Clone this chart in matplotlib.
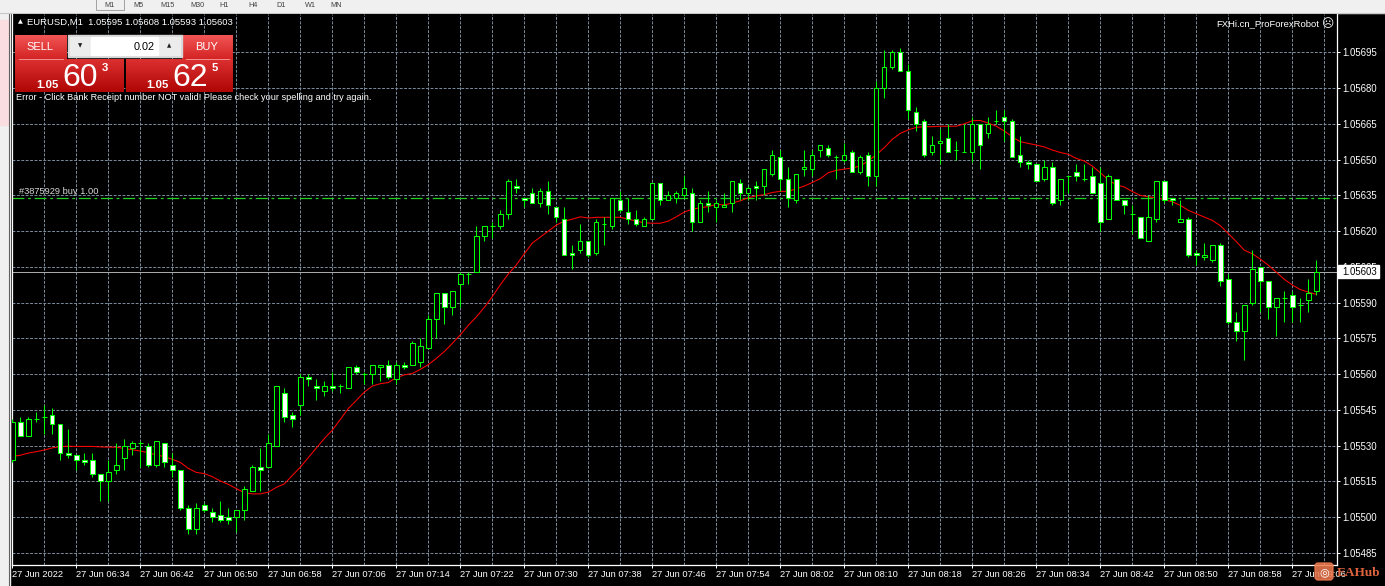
import numpy as np
import matplotlib.pyplot as plt
from matplotlib.patches import Rectangle, FancyBboxPatch
from matplotlib.colors import to_rgb

# ---- data (prices given as points above 1.05000, i.e. 1.05 + pts/1e5) ----
open_pts = [524, 540, 534, 541, 542, 543, 539, 527, 526, 524, 524, 518, 515, 520, 525, 529, 531, 530, 522, 531,
            522, 520, 504, 495, 505, 502, 501, 500, 500, 503, 511, 521, 521, 530, 552, 543, 547, 559, 555, 553,
            555, 555, 554, 563, 560, 560, 563, 564, 558, 564, 564, 565, 571, 583, 594, 588, 598, 602, 603, 618,
            622, 622, 627, 639, 634, 636, 632, 637, 630, 625, 611, 612, 616, 611, 623, 622, 633, 628, 625, 622,
            625, 640, 633, 634, 635, 636, 624, 632, 630, 630, 632, 640, 636, 639, 639, 644, 651, 642, 633, 646,
            646, 654, 655, 651, 650, 653, 645, 652, 643, 680, 689, 695, 687, 670, 666, 653, 657, 659, 654, 653,
            653, 665, 661, 666, 668, 666, 652, 649, 648, 642, 647, 633, 643, 645, 642, 643, 640, 625, 642, 633,
            627, 626, 616, 625, 641, 634, 624, 625, 611, 609, 608, 614, 600, 582, 578, 590, 605, 599, 588, 592,
            593, 589, 591, 595]
high_pts = [541, 542, 542, 544, 547, 546, 539, 537, 526, 527, 527, 518, 524, 531, 533, 532, 532, 531, 532, 531,
            527, 520, 505, 506, 506, 504, 507, 504, 503, 513, 522, 529, 535, 555, 554, 544, 560, 560, 558, 557,
            561, 556, 563, 564, 561, 564, 564, 566, 565, 565, 574, 575, 585, 594, 594, 595, 603, 603, 622, 622,
            624, 629, 642, 642, 634, 638, 638, 641, 630, 630, 614, 623, 616, 625, 626, 634, 637, 634, 629, 626,
            640, 640, 637, 637, 643, 638, 633, 637, 633, 636, 641, 642, 639, 641, 646, 654, 654, 647, 644, 654,
            654, 656, 656, 652, 657, 654, 652, 653, 683, 696, 696, 697, 690, 672, 667, 660, 663, 665, 658, 665,
            668, 665, 668, 671, 671, 667, 660, 650, 648, 650, 649, 642, 643, 648, 648, 647, 647, 644, 642, 633,
            631, 626, 635, 641, 641, 634, 633, 626, 612, 615, 614, 615, 602, 586, 589, 612, 605, 599, 592, 595,
            595, 592, 600, 608]
low_pts = [523, 534, 534, 540, 535, 535, 524, 525, 520, 522, 517, 507, 507, 518, 520, 526, 521, 521, 521, 521,
           517, 503, 493, 493, 502, 498, 498, 497, 494, 499, 511, 511, 521, 530, 540, 538, 543, 555, 549, 551,
           553, 552, 554, 560, 556, 556, 557, 558, 556, 562, 564, 563, 571, 575, 581, 585, 588, 598, 603, 616,
           617, 621, 625, 636, 630, 632, 630, 627, 624, 610, 604, 611, 609, 610, 614, 621, 628, 623, 622, 622,
           625, 631, 633, 632, 634, 620, 624, 628, 624, 630, 628, 633, 633, 633, 635, 643, 637, 630, 632, 643,
           643, 651, 651, 642, 649, 645, 644, 639, 639, 676, 688, 687, 667, 662, 651, 652, 648, 653, 650, 653,
           649, 646, 659, 665, 658, 651, 647, 646, 641, 641, 631, 631, 636, 641, 641, 636, 620, 625, 633, 627,
           619, 617, 616, 624, 632, 631, 624, 609, 606, 608, 607, 597, 581, 574, 566, 589, 586, 583, 576, 582,
           582, 582, 586, 593]
close_pts = [540, 534, 541, 541, 542, 539, 527, 526, 524, 523, 518, 515, 519, 522, 530, 531, 531, 522, 532, 523,
             520, 504, 495, 504, 503, 500, 499, 499, 503, 512, 521, 520, 531, 555, 542, 541, 559, 558, 554, 555,
             554, 555, 563, 561, 560, 564, 564, 559, 564, 563, 573, 572, 583, 594, 588, 595, 602, 602, 618, 622,
             622, 627, 641, 638, 633, 632, 637, 631, 626, 610, 610, 616, 610, 624, 623, 634, 629, 625, 623, 625,
             640, 633, 635, 636, 638, 624, 632, 631, 632, 631, 641, 636, 638, 638, 646, 652, 642, 634, 644, 647,
             652, 656, 652, 651, 652, 645, 651, 643, 680, 689, 695, 687, 671, 665, 652, 656, 658, 653, 654, 653,
             665, 656, 665, 666, 666, 651, 649, 648, 641, 647, 632, 642, 643, 643, 642, 636, 624, 643, 633, 631,
             627, 617, 626, 641, 633, 633, 625, 610, 610, 610, 614, 599, 582, 578, 589, 604, 599, 588, 592, 592,
             588, 589, 594, 603]
ma_pts = [525.5, 526, 526.9, 527.5, 528.2, 529.1, 529.6, 529.8, 529.7, 529.7, 529.7, 529.5, 529.4, 529.4, 528.8,
          528.3, 527.8, 527, 526.2, 525.4, 524.3, 523, 520.5, 518.8, 518.3, 517, 515.2, 513.8, 512, 510.3,
          509.8, 509.8, 510.5, 512.5, 514, 517.5, 521, 525, 529, 533, 536.5, 541, 545.6, 549, 552.5,
          555, 556, 556.5, 558.5, 559.7, 560.3, 562, 564, 566.6, 569.5, 572.9, 576.5, 580.5, 584, 588,
          592.5, 597.5, 602, 605.8, 610.5, 615, 617.5, 620, 622.5, 624.2, 625, 626, 625.5, 625.8, 625.8,
          625.8, 625.8, 625, 624.2, 623.5, 623.3, 623.3, 624.2, 626, 628, 629.2, 629.8, 630.3, 631.2, 631,
          631.8, 632.7, 634, 634.8, 635.3, 636.2, 636.7, 636.7, 637.7, 638.9, 640.4, 642, 644.5, 645.5,
          646, 646.5, 647.3, 649.5, 652, 655, 658.5, 661, 662.5, 663.5, 663.8, 663.8, 664, 664, 664, 665,
          666.3, 666.4, 665.3, 664, 662, 659.5, 657.5, 656.8, 656.1, 655.3, 654, 653, 652.2, 650.5, 649.4,
          647.3, 644.5, 641.5, 639.4, 638.5, 636.6, 635, 634.4, 634, 633.2, 632.3, 630.8, 628.7, 627.3,
          625.9, 624.5, 622.3, 619, 615.6, 612, 610.5, 608.3, 605.7, 602.8, 599.8, 597.4, 595.5, 594.4, 593.5]

time_labels = ["27 Jun 2022", "27 Jun 06:34", "27 Jun 06:42", "27 Jun 06:50", "27 Jun 06:58", "27 Jun 07:06",
               "27 Jun 07:14", "27 Jun 07:22", "27 Jun 07:30", "27 Jun 07:38", "27 Jun 07:46", "27 Jun 07:54",
               "27 Jun 08:02", "27 Jun 08:10", "27 Jun 08:18", "27 Jun 08:26", "27 Jun 08:34", "27 Jun 08:42",
               "27 Jun 08:50", "27 Jun 08:58", "27 Jun 09:06"]
price_ticks = [1.05485, 1.05500, 1.05515, 1.05530, 1.05545, 1.05560, 1.05575, 1.05590, 1.05605,
               1.05620, 1.05635, 1.05650, 1.05665, 1.05680, 1.05695]
periods = ["M1", "M5", "M15", "M30", "H1", "H4", "D1", "W1", "MN"]
bid = 1.05603
order_price = 1.05634
header = "EURUSD,M1  1.05595 1.05608 1.05593 1.05603"

def px(p):
    return 1.05 + np.asarray(p, dtype=float) / 1e5

o, h, l, c = px(open_pts), px(high_pts), px(low_pts), px(close_pts)
ma = px(ma_pts)
k = np.arange(len(o))

W, H = 1385, 586
plt.rcParams['font.family'] = ['Liberation Sans', 'DejaVu Sans']
fig = plt.figure(figsize=(W / 100, H / 100), dpi=100)
fig.patch.set_facecolor('black')

LIME = '#00ff00'
GRID = '#778899'

# window frame (pixel coordinates)
bg = fig.add_axes([0, 0, 1, 1], zorder=0)
bg.set_xlim(0, W)
bg.set_ylim(H, 0)
bg.axis('off')
bg.add_patch(Rectangle((0, 0), W, 13, color='#f0f0f0'))
bg.add_patch(Rectangle((0, 0), 10, H, color='#f0f0f0'))
bg.add_patch(Rectangle((0, 20), 8, 105, color='#f9dde0'))
bg.plot([9, 9], [13, H], color='#606060', lw=0.8)
bg.plot([0, W], [12.5, 12.5], color='#c8c8c8', lw=0.8)
for name, xt in zip(periods, [104, 133, 160, 190, 219, 248, 276, 305, 330]):
    bg.text(xt, 5.5, name, fontsize=5.2, color='#404040', va='center', ha='left')
bg.add_patch(Rectangle((96, -2), 28, 12, fill=False, ec='#a0a0a0', lw=0.7))

# chart
ax = fig.add_axes([11.7 / W, (H - 565) / H, (1336.5 - 11.7) / W, (565 - 13.5) / H], zorder=1)
ax.set_facecolor('black')
ax.set_xlim((11.7 - 12.3) / 8, (1336.5 - 12.3) / 8)
ax.set_ylim(1.05695 - (565 - 52.3) / 238429, 1.05695 + (52.3 - 13.5) / 238429)

ax.set_xticks(np.arange(0, 161, 8))
ax.set_xticks(np.arange(0, 166, 4), minor=True)
ax.set_xticklabels(time_labels, ha='left')
ax.set_yticks(price_ticks)
ax.set_yticklabels(["%.5f" % p for p in price_ticks])
ax.yaxis.tick_right()
ax.grid(True, which='both', axis='x', color=GRID, lw=0.72, linestyle=(0, (2.9, 1.5)))
ax.grid(True, which='major', axis='y', color=GRID, lw=0.72, linestyle=(0, (2.9, 1.5)))
ax.set_axisbelow(True)
ax.tick_params(axis='x', which='major', colors='white', labelsize=6.7, length=2.5, width=0.72, pad=1.0)
ax.tick_params(axis='x', which='minor', length=0)
ax.tick_params(axis='y', colors='white', labelsize=6.9, length=2.5, width=0.72, pad=1.6)
for s in ['left', 'bottom', 'right']:
    ax.spines[s].set_color('white')
    ax.spines[s].set_linewidth(0.9)
ax.spines['top'].set_visible(False)

# bid line and order line
ax.axhline(bid, color='#a8a8a8', lw=0.72, zorder=2)
ax.axhline(order_price, color='#20d020', lw=0.9, linestyle=(0, (9.5, 3, 2.2, 3)), zorder=2)

# moving average
ax.plot(k, ma, color='#ff0000', lw=0.75, zorder=3)

# candles
ax.vlines(k, l, h, color=LIME, lw=0.75, zorder=4)
bull = c >= o
ax.bar(k, c - o, bottom=o, width=0.55, color=np.where(bull, 'black', 'white'),
       edgecolor=LIME, linewidth=0.75, zorder=5)

# overlay (pixel coordinates)
top = fig.add_axes([0, 0, 1, 1], zorder=3)
top.set_xlim(0, W)
top.set_ylim(H, 0)
top.axis('off')
top.patch.set_alpha(0)


def grad(x0, y0, x1, y1, ctop, cbot):
    t = np.linspace(0, 1, 40)[:, None]
    img = (np.array(to_rgb(ctop)) * (1 - t) + np.array(to_rgb(cbot)) * t)[:, None, :]
    top.imshow(img, extent=(x0, x1, y1, y0), aspect='auto', interpolation='bilinear', zorder=2)


top.text(20, 22, "\u25B2", fontsize=4.5, color='white', ha='center', va='center', family='DejaVu Sans')
top.text(27, 22.5, header, fontsize=6.8, color='white', va='center', ha='left')
top.text(1319, 24, "FXHi.cn_ProForexRobot", fontsize=6.8, color='white', va='center', ha='right')
top.text(1327, 24, "\u2639", fontsize=8.5, color='white', va='center', ha='center', family='DejaVu Sans')

# one click trading panel
grad(15, 35, 67, 59, '#f25555', '#d42424')
grad(182, 35, 233, 59, '#f25555', '#d42424')
grad(15, 59, 124, 92, '#dc3030', '#b00606')
grad(126, 59, 233, 92, '#dc3030', '#b00606')
top.plot([19, 63], [58.5, 58.5], color='#f49090', lw=0.7, zorder=3)
top.plot([186, 229], [58.5, 58.5], color='#f49090', lw=0.7, zorder=3)
top.add_patch(Rectangle((68, 35), 114, 22, color='#d6d6d6', zorder=2))
top.add_patch(Rectangle((70, 37), 20, 18, color='#ececec', zorder=3))
top.add_patch(Rectangle((159, 37), 21, 18, color='#ececec', zorder=3))
top.add_patch(Rectangle((91, 37), 67, 18, color='white', zorder=3))
top.text(80, 46, "\u25BC", fontsize=4, color='#202020', ha='center', va='center', family='DejaVu Sans', zorder=4)
top.text(169, 46, "\u25B2", fontsize=4, color='#202020', ha='center', va='center', family='DejaVu Sans', zorder=4)
top.text(155, 46.5, "0.02", fontsize=7.8, color='black', ha='right', va='center', zorder=4)
top.text(40, 46.5, "SELL", fontsize=8, color='white', ha='center', va='center', zorder=4)
top.text(207, 46.5, "BUY", fontsize=8, color='white', ha='center', va='center', zorder=4)
for x_small, x_big, x_sup, big, sup in [(36, 62, 102, "60", "3"), (146, 172, 212, "62", "5")]:
    top.text(x_small, 88, "1.05", fontsize=8.2, color='white', weight='bold', va='baseline', zorder=4)
    top.text(x_big, 86.5, big, fontsize=23, color='white', va='baseline', zorder=4)
    top.text(x_sup, 71, sup, fontsize=8.2, color='white', weight='bold', va='baseline', zorder=4)
top.text(16, 98, "Error - Click Bank Receipt number NOT valid! Please check your spelling and try again.",
         fontsize=6.6, color='white', va='center', ha='left')

# order label
top.text(19, 191.5, "#3875929 buy 1.00", fontsize=6.7, color='#d8d8d8', va='center', ha='left')

# current price label on the axis
y_bid = 52.3 + (1.05695 - bid) * 238429
top.add_patch(Rectangle((1338, y_bid - 6.5), 41, 13, color='white', zorder=4))
top.text(1342, y_bid, "%.5f" % bid, fontsize=6.9, color='black', va='center', ha='left', zorder=5)

# watermark
top.add_patch(FancyBboxPatch((1315, 563), 18, 17, boxstyle='round,pad=0,rounding_size=3',
                             color='#f07a50', alpha=0.85, zorder=4))
top.text(1324, 572, "\u25CE", fontsize=8, color='white', ha='center', va='center', family='DejaVu Sans', zorder=5)
top.text(1337, 573, "EAHub", fontsize=9.5, color='#e0643c', weight='bold', family='Liberation Serif',
         va='center', ha='left', zorder=5)

fig.savefig("out.png", dpi=100, facecolor='black')
